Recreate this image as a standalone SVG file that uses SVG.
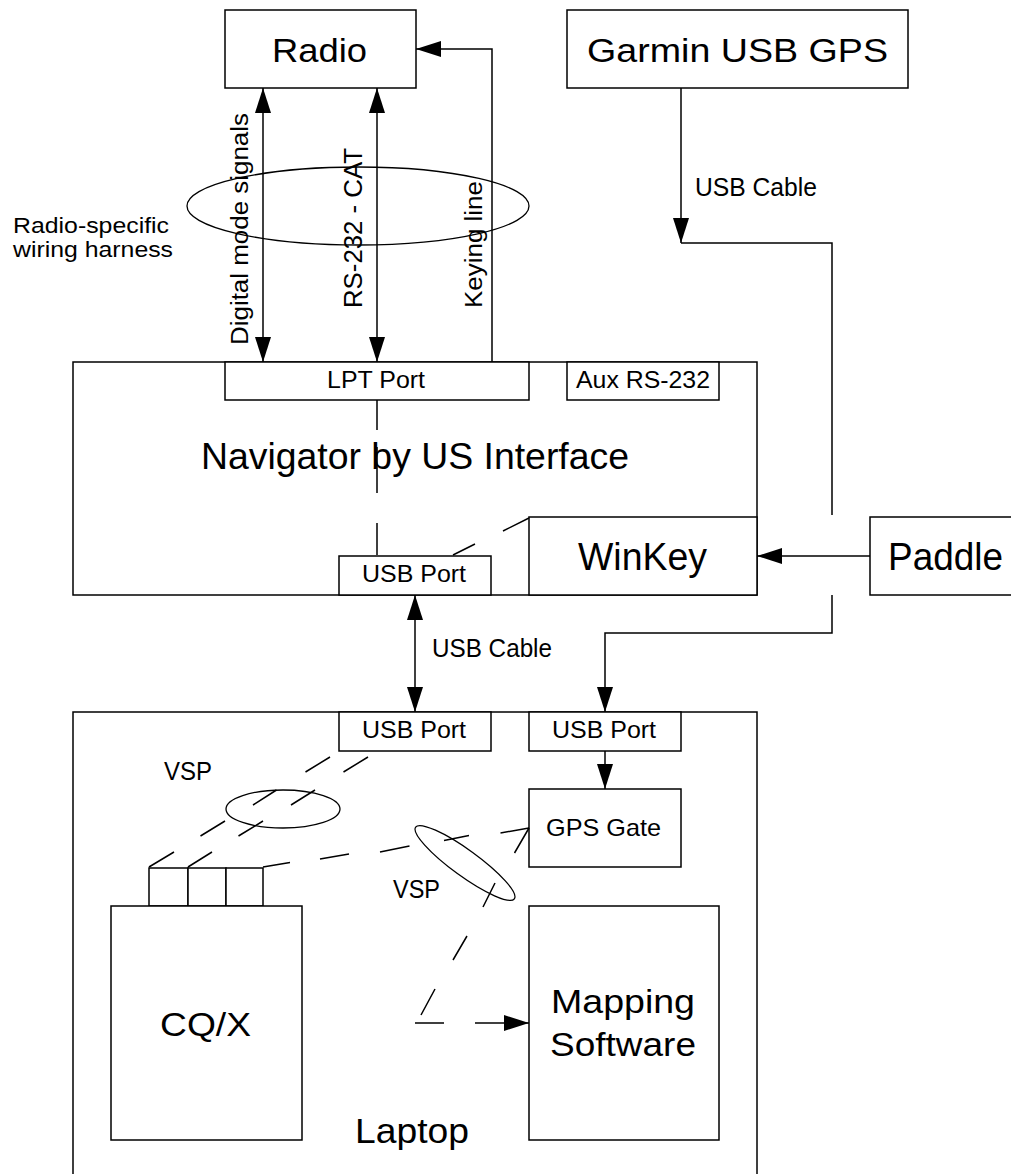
<svg xmlns="http://www.w3.org/2000/svg" width="1011" height="1174" viewBox="0 0 1011 1174">
<style>
.box{fill:#fff;stroke:#000;stroke-width:1.5}
.ln{fill:none;stroke:#000;stroke-width:1.5}
.el{fill:none;stroke:#000;stroke-width:1.3}
.t{font-family:"Liberation Sans",Arial,sans-serif;fill:#000}
</style>
<defs>
<marker id="ah" markerUnits="userSpaceOnUse" markerWidth="26" markerHeight="16" refX="25" refY="8" orient="auto-start-reverse" viewBox="0 0 26 16"><path d="M0,0 L25,8 L0,16 z" fill="#000"/></marker>
</defs>
<rect width="1011" height="1174" fill="#fff"/>

<g id="laptop">
<rect class="box" x="73" y="712" width="684" height="470"/>
<text class="t" x="355" y="1143" font-size="35" textLength="114" lengthAdjust="spacingAndGlyphs">Laptop</text>
</g>
<g id="navigator">
<rect class="box" x="73" y="362" width="684" height="233"/>
<text class="t" x="201" y="469" font-size="37" textLength="428" lengthAdjust="spacingAndGlyphs">Navigator by US Interface</text>
</g>
<g id="radio">
<rect class="box" x="225" y="10" width="191" height="78"/>
<text class="t" x="272" y="62" font-size="34" textLength="95" lengthAdjust="spacingAndGlyphs">Radio</text>
</g>
<g id="garmin">
<rect class="box" x="567" y="10" width="341" height="78"/>
<text class="t" x="587" y="62" font-size="33" textLength="301" lengthAdjust="spacingAndGlyphs">Garmin USB GPS</text>
</g>
<g id="lpt-port">
<rect class="box" x="225" y="362" width="304" height="38"/>
<text class="t" x="327" y="388" font-size="23" textLength="98" lengthAdjust="spacingAndGlyphs">LPT Port</text>
</g>
<g id="aux-rs232">
<rect class="box" x="567" y="362" width="152" height="38"/>
<text class="t" x="576" y="388" font-size="23" textLength="134" lengthAdjust="spacingAndGlyphs">Aux RS-232</text>
</g>
<g id="winkey">
<rect class="box" x="529" y="517" width="228" height="78"/>
<text class="t" x="578" y="570" font-size="38" textLength="129" lengthAdjust="spacingAndGlyphs">WinKey</text>
</g>
<g id="paddle">
<rect class="box" x="870" y="517" width="150" height="78"/>
<text class="t" x="888" y="570" font-size="38" textLength="115" lengthAdjust="spacingAndGlyphs">Paddle</text>
</g>
<g id="nav-usb-port">
<rect class="box" x="339" y="556" width="152" height="39"/>
<text class="t" x="362" y="582" font-size="24" textLength="104" lengthAdjust="spacingAndGlyphs">USB Port</text>
</g>
<g id="laptop-usb-port-1">
<rect class="box" x="339" y="712" width="152" height="39"/>
<text class="t" x="362" y="738" font-size="24" textLength="104" lengthAdjust="spacingAndGlyphs">USB Port</text>
</g>
<g id="laptop-usb-port-2">
<rect class="box" x="529" y="712" width="152" height="39"/>
<text class="t" x="552" y="738" font-size="24" textLength="104" lengthAdjust="spacingAndGlyphs">USB Port</text>
</g>
<g id="gps-gate">
<rect class="box" x="529" y="789" width="152" height="78"/>
<text class="t" x="546" y="836" font-size="24" textLength="115" lengthAdjust="spacingAndGlyphs">GPS Gate</text>
</g>
<g id="cqx">
<rect class="box" x="149" y="868" width="39" height="38"/>
<rect class="box" x="188" y="868" width="38" height="38"/>
<rect class="box" x="226" y="868" width="37" height="38"/>
<rect class="box" x="111" y="906" width="191" height="234"/>
<text class="t" x="160" y="1036" font-size="34" textLength="91" lengthAdjust="spacingAndGlyphs">CQ/X</text>
</g>
<g id="mapping">
<rect class="box" x="529" y="906" width="190" height="234"/>
<text class="t" x="551" y="1013" font-size="33" textLength="144" lengthAdjust="spacingAndGlyphs">Mapping</text>
<text class="t" x="550" y="1056" font-size="33" textLength="146" lengthAdjust="spacingAndGlyphs">Software</text>
</g>

<g id="connectors">
<line class="ln" x1="263" y1="88" x2="263" y2="362" marker-start="url(#ah)" marker-end="url(#ah)"/>
<line class="ln" x1="377" y1="88" x2="377" y2="362" marker-start="url(#ah)" marker-end="url(#ah)"/>
<polyline class="ln" points="492,362 492,49 416,49" marker-end="url(#ah)"/>
<line class="ln" x1="681" y1="88" x2="681" y2="243" marker-end="url(#ah)"/>
<polyline class="ln" points="681,243 832,243 832,515"/>
<polyline class="ln" points="832,595 832,633 605,633 605,712" marker-end="url(#ah)"/>
<line class="ln" x1="870" y1="556" x2="757" y2="556" marker-end="url(#ah)"/>
<line class="ln" x1="415" y1="595" x2="415" y2="712" marker-start="url(#ah)" marker-end="url(#ah)"/>
<line class="ln" x1="605" y1="751" x2="605" y2="789" marker-end="url(#ah)"/>
<path class="ln" d="M377,400 V430 M377,447 V493 M377,523 V555"/>
<path class="ln" d="M453,555 L475,544 M503,531 L529,518"/>
<path class="ln" d="M330,757 L305.5,772 M276.5,790 L253,805 M225,821 L200.5,836 M174,852 L149,867"/>
<path class="ln" d="M368,757 L343.5,772 M315,790 L291,805 M263,821 L238.5,836 M212,852 L188,867"/>
<path class="ln" d="M263,867 L290,862.5 M320,859 L349,854 M380,852 L409.5,846 M444,840.5 L469,835.5 M500.5,833 L529,828"/>
<path class="ln" d="M529,828 L514.5,853 M495,883 L483,907 M467,936 L453,960 M435,989 L421,1015 M415,1023 H444"/>
<line class="ln" x1="475" y1="1023" x2="529" y2="1023" marker-end="url(#ah)"/>
<ellipse class="el" cx="358" cy="206" rx="171" ry="39"/>
<ellipse class="el" cx="283" cy="809" rx="57" ry="19"/>
<ellipse class="el" cx="465" cy="863" rx="61" ry="13" transform="rotate(36 465 863)"/>
</g>

<g id="labels">
<text class="t" x="13" y="233" font-size="22" textLength="156" lengthAdjust="spacingAndGlyphs">Radio-specific</text>
<text class="t" x="13" y="257" font-size="22" textLength="160" lengthAdjust="spacingAndGlyphs">wiring harness</text>
<text class="t" transform="translate(248,345) rotate(-90)" font-size="23" textLength="232" lengthAdjust="spacingAndGlyphs">Digital mode signals</text>
<text class="t" transform="translate(362,308) rotate(-90)" font-size="25" textLength="160" lengthAdjust="spacingAndGlyphs">RS-232 - CAT</text>
<text class="t" transform="translate(482,308) rotate(-90)" font-size="23" textLength="127" lengthAdjust="spacingAndGlyphs">Keying line</text>
<text class="t" x="695" y="196" font-size="25" textLength="122" lengthAdjust="spacingAndGlyphs">USB Cable</text>
<text class="t" x="432" y="657" font-size="25" textLength="120" lengthAdjust="spacingAndGlyphs">USB Cable</text>
<text class="t" x="164" y="780" font-size="25" textLength="48" lengthAdjust="spacingAndGlyphs">VSP</text>
<text class="t" x="393" y="898" font-size="25" textLength="47" lengthAdjust="spacingAndGlyphs">VSP</text>
</g>
</svg>
